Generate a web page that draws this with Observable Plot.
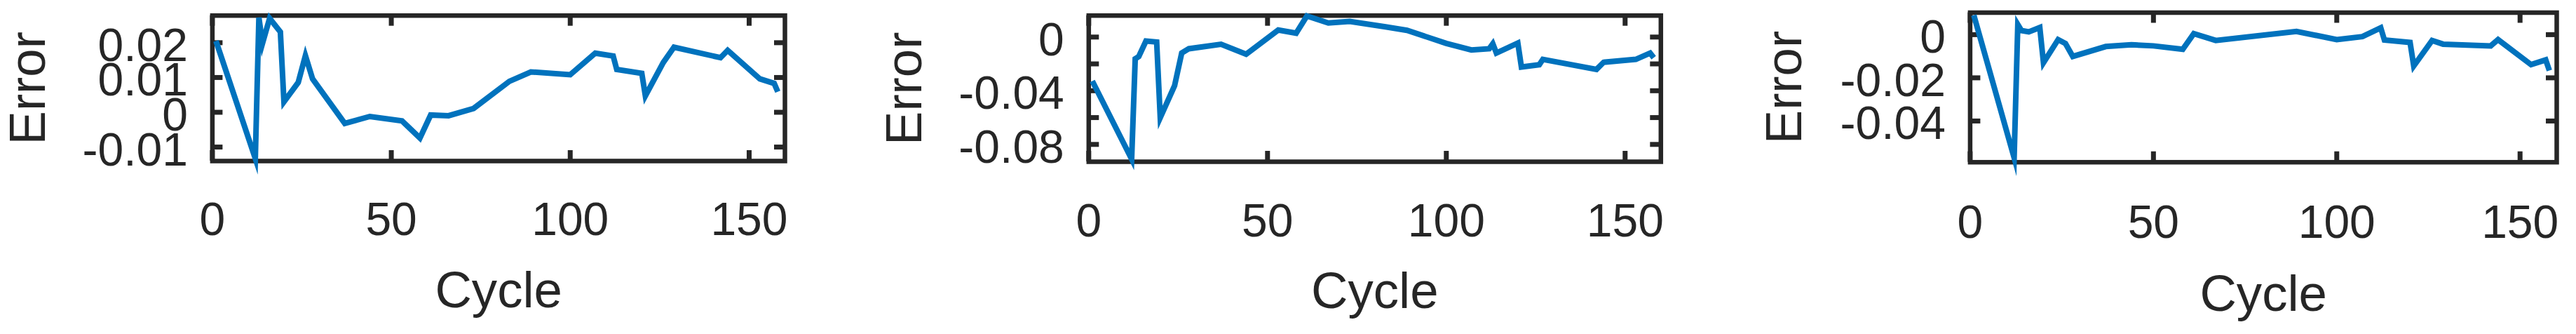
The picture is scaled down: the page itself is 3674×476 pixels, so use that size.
<!DOCTYPE html>
<html>
<head>
<meta charset="utf-8">
<script src="https://cdn.jsdelivr.net/npm/d3@7"></script>
<script src="https://cdn.jsdelivr.net/npm/@observablehq/plot@0.6"></script>
<style>
  html, body { margin: 0; padding: 0; background: #fff; }
  #wrap { position: relative; width: 3674px; height: 476px; overflow: hidden; background: #fff; }
  #wrap svg { position: absolute; top: 0; }
</style>
</head>
<body>
<div id="wrap"></div>
<script>
// ---- data ----
const xTicks = [0, 50, 100, 150];

const cycles1 = [1, 12, 13, 14, 16, 19, 20, 24, 26, 28, 37, 44, 53, 58, 61, 66, 73, 83, 89, 100, 107, 112, 113, 120, 121, 126, 129, 142, 144, 153, 157, 158];
const err1 = [0.0205, -0.0133, 0.0272, 0.0198, 0.0270, 0.0231, 0.0030, 0.0086, 0.0163, 0.0096, -0.0032, -0.0012, -0.0025, -0.0074, -0.0008, -0.0010, 0.0011, 0.0089, 0.0116, 0.0108, 0.0170, 0.0162, 0.0123, 0.0112, 0.0047, 0.0143, 0.0187, 0.0157, 0.0178, 0.0096, 0.0083, 0.0059];
const yTicks1 = [0.02, 0.01, 0, -0.01];
const yLabels1 = [0.02, 0.01, 0, -0.01];

const cycles2 = [1, 12, 13, 14, 16, 19, 20, 24, 26, 28, 37, 44, 53, 58, 61, 67, 73, 83, 89, 100, 107, 112, 113, 114, 120, 121, 126, 127, 142, 144, 153, 157, 158];
const err2 = [-0.0328, -0.0910, -0.0162, -0.0145, -0.0030, -0.0037, -0.0600, -0.0363, -0.0119, -0.0087, -0.0054, -0.0128, 0.0052, 0.0029, 0.0157, 0.0105, 0.0117, 0.0076, 0.0050, -0.0047, -0.0096, -0.0087, -0.0050, -0.0119, -0.0045, -0.0223, -0.0206, -0.0166, -0.0241, -0.0188, -0.0166, -0.0119, -0.0154];
const yTicks2 = [0, -0.02, -0.04, -0.06, -0.08];
const yLabels2 = [0, -0.04, -0.08];

const cycles3 = [1, 12, 13, 14, 16, 19, 20, 24, 26, 28, 37, 44, 50, 58, 61, 67, 89, 100, 107, 112, 113, 120, 121, 126, 129, 142, 144, 153, 157, 158];
const err3 = [0.0090, -0.0570, 0.0047, 0.0019, 0.0013, 0.0033, -0.0130, -0.0023, -0.0041, -0.0101, -0.0055, -0.0047, -0.0052, -0.0068, 0.0005, -0.0027, 0.0015, -0.0023, -0.0009, 0.0032, -0.0025, -0.0036, -0.0145, -0.0027, -0.0044, -0.0052, -0.0023, -0.0139, -0.0117, -0.0166];
const yTicks3 = [0, -0.02, -0.04];
const yLabels3 = [0, -0.02, -0.04];

const xLabel = "Cycle";
const yLabel = "Error";

// ---- drawing ----
const INK = "#262626";
const BLUE = "#0072BD";
const FONT = "'Liberation Sans', Arial, Helvetica, sans-serif";
const TICK_FS = 66;
const LABEL_FS = 72.6;
const TICK_LEN = 15;

function panel(cfg) {
  const {cycles, errs, yDomain, yTicks, yLabels, left, width, mL, mR, mT, mB, xlabDy, cycDy, errDx} = cfg;
  const height = 476;
  const plotW = width - mL - mR;
  const plotH = height - mT - mB;
  const data = cycles.map((c, i) => ({c, e: errs[i]}));
  const svg = Plot.plot({
    width, height,
    marginLeft: mL, marginRight: mR, marginTop: mT, marginBottom: mB,
    style: {fontFamily: FONT, background: "transparent", overflow: "visible", color: INK},
    x: {domain: [0, 160], axis: null},
    y: {domain: yDomain, axis: null},
    marks: [
      Plot.frame({stroke: INK, strokeWidth: 6.5}),
      Plot.ruleX(xTicks, {x: d => d, stroke: INK, strokeWidth: 7, insetTop: plotH - TICK_LEN}),
      Plot.ruleX(xTicks, {x: d => d, stroke: INK, strokeWidth: 7, insetBottom: plotH - TICK_LEN}),
      Plot.ruleY(yTicks, {y: d => d, stroke: INK, strokeWidth: 7, insetRight: plotW - TICK_LEN}),
      Plot.ruleY(yTicks, {y: d => d, stroke: INK, strokeWidth: 7, insetLeft: plotW - TICK_LEN}),
      Plot.line(data, {x: "c", y: "e", stroke: BLUE, strokeWidth: 8, strokeLinejoin: "miter", strokeMiterlimit: 10, strokeLinecap: "butt"}),
      Plot.text(xTicks, {x: d => d, text: d => String(d), frameAnchor: "bottom", dy: xlabDy, lineAnchor: "bottom", textAnchor: "middle", fontSize: TICK_FS, fill: INK, fontFamily: FONT}),
      Plot.text(yLabels, {y: d => d, text: d => String(d), frameAnchor: "left", dx: -35, dy: 26, lineAnchor: "bottom", textAnchor: "end", fontSize: TICK_FS, fill: INK, fontFamily: FONT}),
      Plot.text([xLabel], {text: d => d, frameAnchor: "bottom", dy: cycDy, lineAnchor: "bottom", textAnchor: "middle", fontSize: LABEL_FS, fill: INK, fontFamily: FONT}),
      Plot.text([yLabel], {text: d => d, frameAnchor: "left", dx: errDx, rotate: -90, lineAnchor: "bottom", textAnchor: "middle", fontSize: LABEL_FS, fill: INK, fontFamily: FONT})
    ]
  });
  svg.style.left = left + "px";
  document.getElementById("wrap").appendChild(svg);
}

panel({cycles: cycles1, errs: err1, yDomain: [-0.01402, 0.0278], yTicks: yTicks1, yLabels: yLabels1,
       left: 0, width: 1230, mL: 302.4, mR: 111, mT: 21.7, mB: 247, xlabDy: 105, cycDy: 208, errDx: -239});
panel({cycles: cycles2, errs: err2, yDomain: [-0.0929, 0.016], yTicks: yTicks2, yLabels: yLabels2,
       left: 1230, width: 1230, mL: 322.3, mR: 91.7, mT: 21.7, mB: 246, xlabDy: 106, cycDy: 208, errDx: -239});
panel({cycles: cycles3, errs: err3, yDomain: [-0.0591, 0.0102], yTicks: yTicks3, yLabels: yLabels3,
       left: 2460, width: 1214, mL: 349.4, mR: 28, mT: 17.5, mB: 245.3, xlabDy: 108, cycDy: 212, errDx: -241});
</script>
</body>
</html>
